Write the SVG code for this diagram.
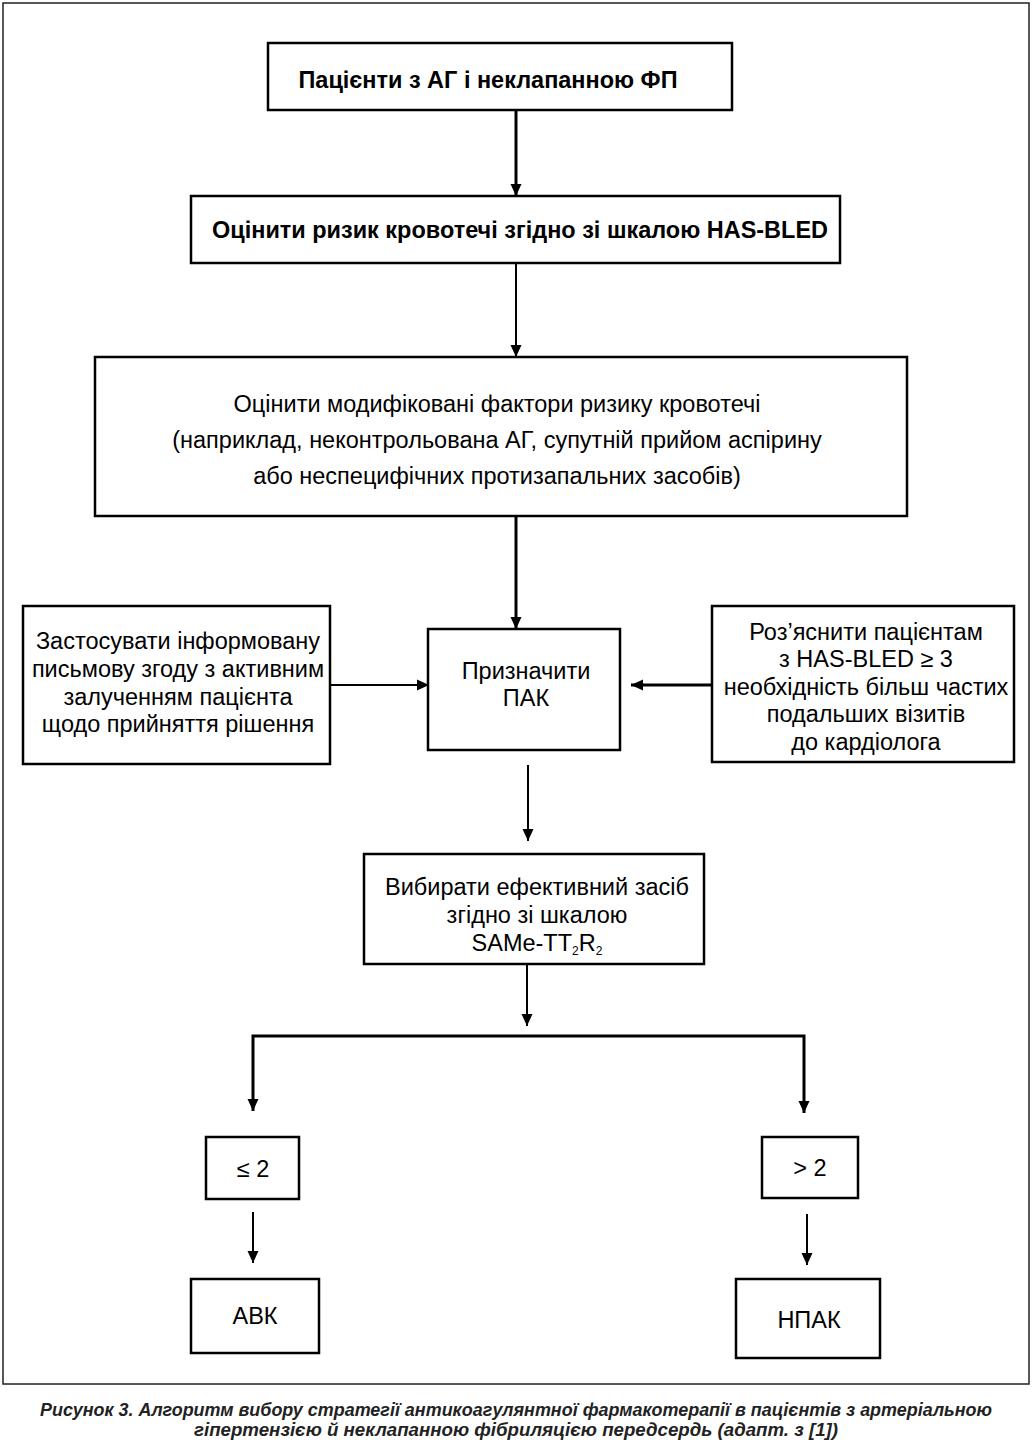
<svg xmlns="http://www.w3.org/2000/svg" width="1033" height="1443" viewBox="0 0 1033 1443">
<defs>
<marker id="ah" viewBox="0 0 12 12" refX="12" refY="6" markerWidth="12" markerHeight="12" markerUnits="userSpaceOnUse" orient="auto">
<path d="M0,0.5 L12,6 L0,11.5 z" fill="#000"/>
</marker>
<style>
.box{fill:#fff;stroke:#000;stroke-width:2.5}
.t{font-family:"Liberation Sans",Arial,sans-serif;font-size:23.5px;fill:#000;text-anchor:middle}
.b{font-weight:bold}
.c{stroke:#000;fill:none}
.cap{font-family:"Liberation Sans",Arial,sans-serif;font-size:18px;font-weight:bold;font-style:italic;fill:#222;text-anchor:middle}
</style>
</defs>
<rect x="0" y="0" width="1033" height="1443" fill="#fff"/>
<rect x="3" y="3" width="1026" height="1381" fill="none" stroke="#222" stroke-width="1.5"/>

<g id="connectors">
<line class="c" x1="516" y1="110" x2="516" y2="196" stroke-width="3" marker-end="url(#ah)"/>
<line class="c" x1="516" y1="263" x2="516" y2="357" stroke-width="2" marker-end="url(#ah)"/>
<line class="c" x1="516" y1="516" x2="516" y2="629" stroke-width="3" marker-end="url(#ah)"/>
<line class="c" x1="330" y1="685" x2="429" y2="685" stroke-width="2" marker-end="url(#ah)"/>
<line class="c" x1="712" y1="685" x2="631" y2="685" stroke-width="3" marker-end="url(#ah)"/>
<line class="c" x1="528" y1="765" x2="528" y2="841" stroke-width="2" marker-end="url(#ah)"/>
<line class="c" x1="527" y1="964" x2="527" y2="1026" stroke-width="2" marker-end="url(#ah)"/>
<path class="c" d="M528,1036 H253 V1111" stroke-width="3" marker-end="url(#ah)"/>
<path class="c" d="M528,1036 H804 V1113" stroke-width="3" marker-end="url(#ah)"/>
<line class="c" x1="253" y1="1212" x2="253" y2="1263" stroke-width="2" marker-end="url(#ah)"/>
<line class="c" x1="807" y1="1214" x2="807" y2="1265" stroke-width="2" marker-end="url(#ah)"/>
</g>

<g id="n1"><rect class="box" x="268" y="43" width="464" height="67"/>
<text class="t b" x="488" y="88" font-size="22" textLength="379" lengthAdjust="spacingAndGlyphs">Пацієнти з АГ і неклапанною ФП</text></g>

<g id="n2"><rect class="box" x="191" y="196" width="649" height="67"/>
<text class="t b" x="520" y="238" font-size="23" textLength="616" lengthAdjust="spacingAndGlyphs">Оцінити ризик кровотечі згідно зі шкалою HAS-BLED</text></g>

<g id="n3"><rect class="box" x="95" y="357" width="812" height="159"/>
<text class="t" x="497" y="412">Оцінити модифіковані фактори ризику кровотечі</text>
<text class="t" x="497" y="448">(наприклад, неконтрольована АГ, супутній прийом аспірину</text>
<text class="t" x="497" y="484">або неспецифічних протизапальних засобів)</text></g>

<g id="n4"><rect class="box" x="428" y="629" width="192" height="121"/>
<text class="t" x="526" y="679">Призначити</text>
<text class="t" x="526" y="706">ПАК</text></g>

<g id="n5"><rect class="box" x="23" y="606" width="307" height="158"/>
<text class="t" x="178" y="649">Застосувати інформовану</text>
<text class="t" x="178" y="677">письмову згоду з активним</text>
<text class="t" x="178" y="705">залученням пацієнта</text>
<text class="t" x="178" y="732">щодо прийняття рішення</text></g>

<g id="n6"><rect class="box" x="712" y="606" width="302" height="156"/>
<text class="t" x="866" y="640">Роз’яснити пацієнтам</text>
<text class="t" x="866" y="667">з HAS-BLED ≥ 3</text>
<text class="t" x="866" y="695">необхідність більш частих</text>
<text class="t" x="866" y="722">подальших візитів</text>
<text class="t" x="866" y="750">до кардіолога</text></g>

<g id="n7"><rect class="box" x="364" y="854" width="340" height="110"/>
<text class="t" x="537" y="895">Вибирати ефективний засіб</text>
<text class="t" x="537" y="923">згідно зі шкалою</text>
<text class="t" x="537" y="951">SAMe-TT<tspan font-size="12" dy="4">2</tspan><tspan dy="-4">R</tspan><tspan font-size="12" dy="4">2</tspan></text></g>

<g id="n8"><rect class="box" x="206" y="1137" width="93" height="62"/>
<text class="t" x="253" y="1177">≤ 2</text></g>

<g id="n9"><rect class="box" x="762" y="1137" width="96" height="61"/>
<text class="t" x="810" y="1176">&gt; 2</text></g>

<g id="n10"><rect class="box" x="191" y="1279" width="128" height="74"/>
<text class="t" x="255" y="1324">АВК</text></g>

<g id="n11"><rect class="box" x="736" y="1279" width="144" height="79"/>
<text class="t" x="809" y="1328">НПАК</text></g>

<text class="cap" x="516" y="1416" textLength="952" lengthAdjust="spacingAndGlyphs">Рисунок 3. Алгоритм вибору стратегії антикоагулянтної фармакотерапії в пацієнтів з артеріальною</text>
<text class="cap" x="516" y="1436" textLength="644" lengthAdjust="spacingAndGlyphs">гіпертензією й неклапанною фібриляцією передсердь (адапт. з [1])</text>
</svg>
